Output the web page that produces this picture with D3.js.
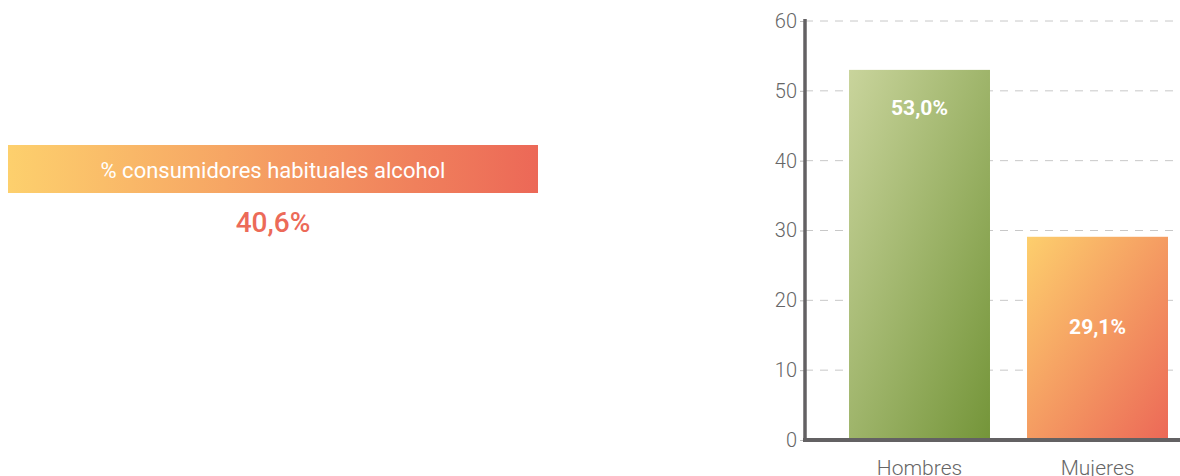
<!DOCTYPE html>
<html><head><meta charset="utf-8">
<script src="https://cdn.jsdelivr.net/npm/d3@7"></script>
<style>body{margin:0;background:#fff}svg{display:block;font-family:Roboto,"Noto Sans",sans-serif}</style>
</head><body><svg id="c" width="1180" height="476"></svg>
<script>
const categories = ["Hombres", "Mujeres"];
const values = [53.0, 29.1];
const valueLabels = ["53,0%", "29,1%"];
const yTicks = [0, 10, 20, 30, 40, 50, 60];
const summaryTitle = ["% consumidores habituales alcohol"];
const summaryValue = ["40,6%"];

const svg = d3.select("#c");
const defs = svg.append("defs");
function grad(id, x2, y2, c1, c2) {
  const g = defs.append("linearGradient").attr("id", id)
    .attr("x1", "0%").attr("y1", "0%").attr("x2", x2).attr("y2", y2);
  g.append("stop").attr("offset", "0%").attr("stop-color", c1);
  g.append("stop").attr("offset", "100%").attr("stop-color", c2);
}
grad("gBanner", "100%", "0%", "#fdd06d", "#ec6857");
grad("gGreen", "100%", "100%", "#c9d49c", "#749539");
grad("gOrange", "100%", "100%", "#fdcf6d", "#ec6857");
const fills = ["url(#gGreen)", "url(#gOrange)"];

// Left summary
const banner = svg.append("g");
banner.append("rect").attr("x", 8).attr("y", 145).attr("width", 530).attr("height", 48)
  .attr("fill", "url(#gBanner)");
banner.selectAll("text.t").data(summaryTitle).join("text").attr("class", "t")
  .attr("x", 273).attr("y", 178).attr("text-anchor", "middle")
  .attr("fill", "#fff").attr("font-size", 22).text(d => d);
banner.selectAll("text.v").data(summaryValue).join("text").attr("class", "v")
  .attr("x", 273).attr("y", 232).attr("text-anchor", "middle")
  .attr("fill", "#ec6a58").attr("font-size", 28).attr("font-weight", 500).text(d => d);

// Chart
const x0 = 805, x1 = 1180;
const y = d3.scaleLinear().domain([0, 60]).range([440, 21]);
const x = d3.scaleBand().domain(categories).range([849, 1168]).paddingInner(0.208).paddingOuter(0);

const g = svg.append("g");
// gridlines
g.selectAll("line.grid").data(yTicks.filter(d => d > 0)).join("line").attr("class", "grid")
  .attr("x1", x0).attr("x2", x1).attr("y1", d => y(d)).attr("y2", d => y(d))
  .attr("stroke", "#c8c8c8").attr("stroke-width", 1).attr("stroke-dasharray", "8,7");

// bars
g.selectAll("rect.bar").data(values).join("rect").attr("class", "bar")
  .attr("x", (d, i) => x(categories[i])).attr("width", x.bandwidth())
  .attr("y", d => y(d)).attr("height", d => y(0) - y(d))
  .attr("fill", (d, i) => fills[i]);

g.selectAll("text.bl").data(values).join("text").attr("class", "bl")
  .attr("x", (d, i) => x(categories[i]) + x.bandwidth() / 2)
  .attr("y", d => y(d) + (y(0) - y(d)) * (d > 40 ? 0.1 : 0.44) + 8)
  .attr("text-anchor", "middle").attr("fill", "#fff").attr("font-size", 21).attr("font-weight", 700)
  .text((d, i) => valueLabels[i]);

// y axis
const yAxis = d3.axisLeft(y).tickValues(yTicks).tickSize(5).tickPadding(3).tickFormat(d3.format("d"));
const ya = g.append("g").attr("transform", `translate(${x0},0)`).call(yAxis);
ya.select(".domain").remove();
ya.selectAll(".tick line").attr("stroke", "#bbb");
ya.selectAll(".tick text").attr("fill", "#666").attr("font-size", 20).attr("font-family", "Roboto, sans-serif").attr("font-weight", 300);
g.append("line").attr("x1", x0).attr("x2", x0).attr("y1", y(60) - 2).attr("y2", y(0) + 2)
  .attr("stroke", "#636163").attr("stroke-width", 3.5);
g.append("line").attr("x1", x0 - 2).attr("x2", x1).attr("y1", y(0)).attr("y2", y(0))
  .attr("stroke", "#636163").attr("stroke-width", 4);

// x axis labels
const xAxis = d3.axisBottom(x).tickSize(0).tickPadding(20);
const xa = g.append("g").attr("transform", `translate(0,${y(0)})`).call(xAxis);
xa.select(".domain").remove();
xa.selectAll(".tick text").attr("fill", "#666").attr("font-size", 21).attr("font-family", "Roboto, sans-serif").attr("font-weight", 300);
</script></body></html>
